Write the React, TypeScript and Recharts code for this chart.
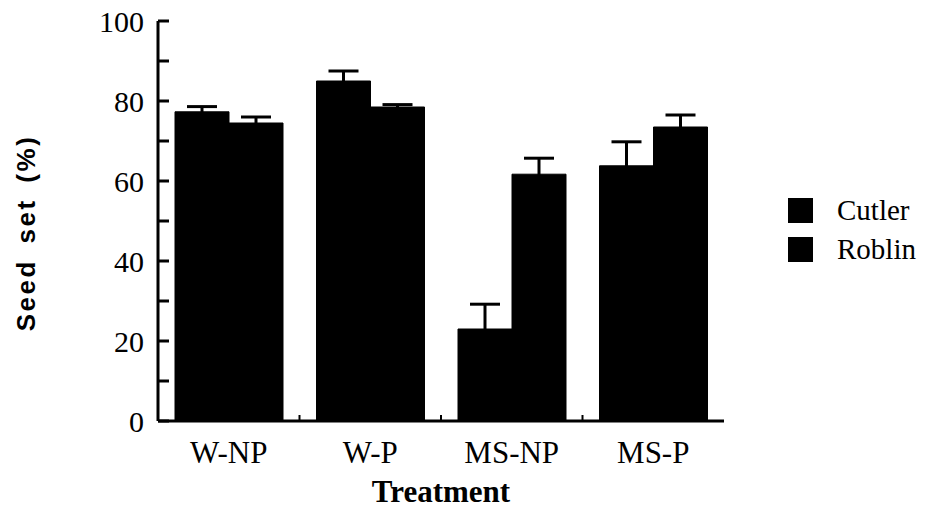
import { BarChart, Bar, XAxis, YAxis, ErrorBar } from 'recharts';

const treatments = ['W-NP', 'W-P', 'MS-NP', 'MS-P'];
const cutler = [77.3, 85, 23, 63.8];
const cutlerErr = [1.3, 2.5, 6.2, 6];
const roblin = [74.5, 78.5, 61.7, 73.5];
const roblinErr = [1.5, 0.6, 4, 3];
const yTicks = [0, 10, 20, 30, 40, 50, 60, 70, 80, 90, 100];

const data = treatments.map((t, i) => ({
  name: t,
  cutler: cutler[i],
  cutlerErr: cutlerErr[i],
  roblin: roblin[i],
  roblinErr: roblinErr[i],
}));

const W = 925;
const H = 508;
const MARGIN = { top: 21, right: 201, left: 98, bottom: 0 };
const Y_WIDTH = 60;
const BAND = (W - MARGIN.left - MARGIN.right - Y_WIDTH) / treatments.length;
const SERIF = '"Liberation Serif", "Times New Roman", serif';

function YTick(props: any) {
  const { x, y, payload } = props;
  const major = payload.value % 20 === 0;
  return (
    <g>
      <line x1={x} x2={x + 11} y1={y} y2={y} stroke="#000" strokeWidth={3} />
      {major && (
        <text x={x - 14} y={y} dy={11} textAnchor="end" fontFamily={SERIF} fontSize={30} fill="#000">
          {payload.value}
        </text>
      )}
    </g>
  );
}

function XTick(props: any) {
  const { x, y, payload, index } = props;
  return (
    <g>
      {index > 0 && (
        <line x1={x - BAND / 2} x2={x - BAND / 2} y1={y} y2={y - 6} stroke="#000" strokeWidth={2} />
      )}
      <text x={x} y={y + 42} textAnchor="middle" fontFamily={SERIF} fontSize={31} fill="#000">
        {payload.value}
      </text>
    </g>
  );
}

export default function App() {
  return (
    <div style={{ position: 'absolute', left: 0, top: 0, width: W, height: H, background: '#fff' }}>
      <BarChart width={W} height={H} data={data} margin={MARGIN} barGap={0} barCategoryGap="12%">
        <XAxis
          dataKey="name"
          height={87}
          axisLine={{ stroke: '#000', strokeWidth: 3 }}
          tickLine={false}
          tickSize={0}
          tickMargin={0}
          tick={<XTick />}
          interval={0}
          label={{
            value: 'Treatment',
            position: 'insideBottom',
            offset: 6,
            style: { fontFamily: SERIF, fontWeight: 'bold', fontSize: 31, fill: '#000' },
          }}
        />
        <XAxis
          xAxisId="top"
          dataKey="name"
          orientation="top"
          height={0}
          axisLine={{ stroke: '#000', strokeWidth: 3 }}
          tick={false}
          tickLine={false}
        />
        <YAxis
          width={Y_WIDTH}
          domain={[0, 100]}
          ticks={yTicks}
          interval={0}
          axisLine={{ stroke: '#000', strokeWidth: 3 }}
          tickLine={false}
          tickSize={0}
          tickMargin={0}
          tick={<YTick />}
          label={{
            value: 'Seed set (%)',
            angle: -90,
            position: 'insideLeft',
            offset: -72,
            dy: 12,
            style: {
              fontFamily: '"Liberation Sans", Arial, sans-serif',
              fontWeight: 'bold',
              fontSize: 26,
              letterSpacing: 2.5,
              wordSpacing: 6,
              fill: '#000',
              textAnchor: 'middle',
            },
          }}
        />
        <YAxis
          yAxisId="right"
          orientation="right"
          width={0}
          domain={[0, 100]}
          axisLine={{ stroke: '#000', strokeWidth: 3 }}
          tick={false}
          tickLine={false}
        />
        <Bar dataKey="cutler" name="Cutler" fill="#000" stroke="#000" strokeWidth={1} barSize={54} isAnimationActive={false}>
          <ErrorBar dataKey="cutlerErr" direction="y" width={15} stroke="#000" strokeWidth={3} />
        </Bar>
        <Bar dataKey="roblin" name="Roblin" fill="#000" stroke="#000" strokeWidth={1} barSize={54} isAnimationActive={false}>
          <ErrorBar dataKey="roblinErr" direction="y" width={15} stroke="#000" strokeWidth={3} />
        </Bar>
      </BarChart>
      {[
        { label: 'Cutler', top: 198 },
        { label: 'Roblin', top: 237 },
      ].map((item) => (
        <div key={item.label} style={{ position: 'absolute', left: 788, top: item.top, display: 'flex', alignItems: 'center' }}>
          <div style={{ width: 25, height: 25, background: '#000' }} />
          <span style={{ marginLeft: 24, fontFamily: SERIF, fontSize: 29, lineHeight: '25px', color: '#000' }}>
            {item.label}
          </span>
        </div>
      ))}
    </div>
  );
}
